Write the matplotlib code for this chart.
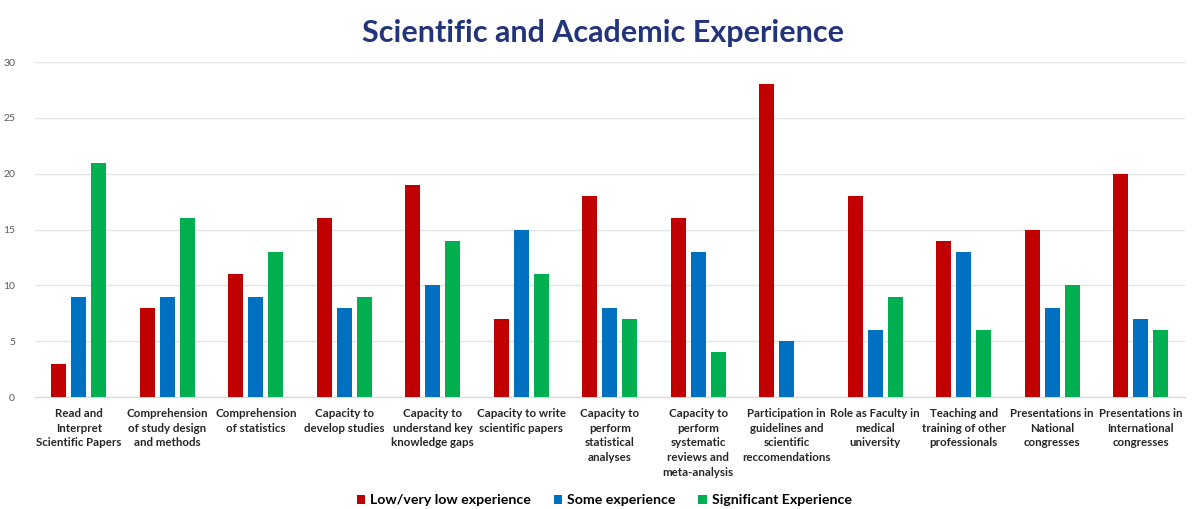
import matplotlib
matplotlib.use("Agg")
import matplotlib.pyplot as plt
import numpy as np

categories = [
    "Read and\nInterpret\nScientific Papers",
    "Comprehension\nof study design\nand methods",
    "Comprehension\nof statistics",
    "Capacity to\ndevelop studies",
    "Capacity to\nunderstand key\nknowledge gaps",
    "Capacity to write\nscientific papers",
    "Capacity to\nperform\nstatistical\nanalyses",
    "Capacity to\nperform\nsystematic\nreviews and\nmeta-analysis",
    "Participation in\nguidelines and\nscientific\nreccomendations",
    "Role as Faculty in\nmedical\nuniversity",
    "Teaching and\ntraining of other\nprofessionals",
    "Presentations in\nNational\ncongresses",
    "Presentations in\nInternational\ncongresses",
]
low = [3, 8, 11, 16, 19, 7, 18, 16, 28, 18, 14, 15, 20]
some = [9, 9, 9, 8, 10, 15, 8, 13, 5, 6, 13, 8, 7]
significant = [21, 16, 13, 9, 14, 11, 7, 4, 0, 9, 6, 10, 6]
series_names = ["Low/very low experience", "Some experience", "Significant Experience"]
colors = ["#C00000", "#0070C0", "#00B050"]

plt.rcParams['font.family'] = ['Lato', 'DejaVu Sans']

fig = plt.figure(figsize=(11.92, 5.09), dpi=100)
ax = fig.add_axes([0.029, 0.22, 0.965, 0.658])

x = np.arange(len(categories))
w = 0.17
step = 0.225
for i, (vals, name, c) in enumerate(zip([low, some, significant], series_names, colors)):
    ax.bar(x + (i - 1) * step, vals, width=w, color=c, label=name, zorder=3)

ax.set_xlim(-0.5, len(categories) - 0.5)
ax.set_ylim(0, 30)
ax.set_yticks(range(0, 31, 5))
ax.yaxis.grid(True, color="#E4E4E4", linewidth=1, zorder=0)
ax.set_axisbelow(True)
for s in ax.spines.values():
    s.set_visible(False)
ax.spines['bottom'].set_visible(True)
ax.spines['bottom'].set_color("#D9D9D9")
ax.tick_params(axis='y', length=0, labelsize=7.5, labelcolor="#595959")
ax.tick_params(axis='x', length=0, pad=8)
ax.set_xticks(x)
ax.set_xticklabels(categories, fontsize=8.3, fontweight='bold', color="#262626", linespacing=1.4, va='top')
ax.yaxis.set_tick_params(pad=14)

fig.suptitle("Scientific and Academic Experience", x=0.506, y=0.962, fontsize=22,
             fontweight='bold', color="#23357A")

fig.legend(loc='lower center', bbox_to_anchor=(0.507, -0.02), ncol=3, frameon=False,
           prop={'weight': 'bold', 'size': 10.2}, handlelength=0.6, handleheight=0.6,
           columnspacing=1.6, handletextpad=0.35)

fig.savefig("out.png", dpi=100)
